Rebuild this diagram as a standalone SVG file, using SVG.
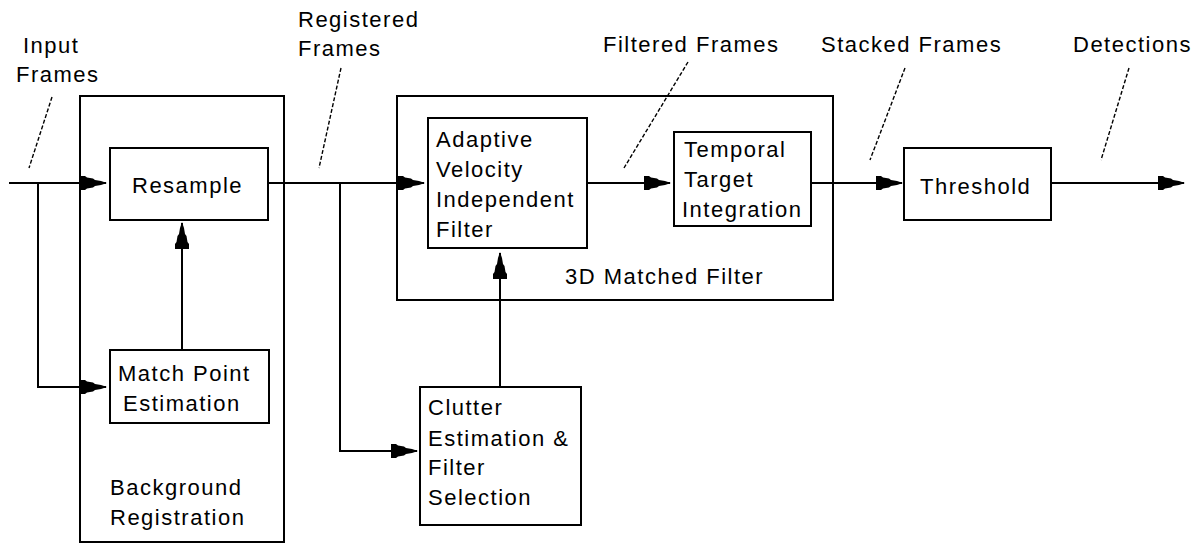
<svg xmlns="http://www.w3.org/2000/svg" width="1200" height="544" viewBox="0 0 1200 544">
<style>
.box{fill:none;stroke:#000;stroke-width:2}
.ln{fill:none;stroke:#000;stroke-width:2}
.ld{fill:none;stroke:#000;stroke-width:1.4;stroke-dasharray:4 2}
text{font-family:"Liberation Sans",Arial,Helvetica,sans-serif;font-size:22px;letter-spacing:1.5px;fill:#000}
</style>
<defs>
<marker id="ah" viewBox="-28 -8 30 16" refX="0" refY="0" markerWidth="30" markerHeight="16" markerUnits="userSpaceOnUse" orient="auto">
<path d="M1,0 L-5,-2 L-11,-3 L-13,-4.5 L-19,-5.5 L-21,-7 L-26,-7 L-26,7 L-21,7 L-19,5.5 L-13,4.5 L-11,3 L-5,2 Z" fill="#000"/>
</marker>
</defs>
<rect width="1200" height="544" fill="#fff"/>

<g id="bg-registration">
<rect class="box" x="80" y="96" width="204" height="446"/>
<text x="110" y="495">Background</text>
<text x="110" y="525">Registration</text>
</g>
<g id="resample">
<rect class="box" x="110" y="148" width="158" height="72"/>
<text x="132" y="193">Resample</text>
</g>
<g id="match-point">
<rect class="box" x="110" y="350" width="159" height="73"/>
<text x="118" y="381">Match Point</text>
<text x="123" y="411">Estimation</text>
</g>
<g id="matched-filter">
<rect class="box" x="397" y="96" width="436" height="204"/>
<text x="565" y="284">3D Matched Filter</text>
</g>
<g id="adaptive">
<rect class="box" x="428" y="118" width="159" height="130"/>
<text x="436" y="147">Adaptive</text>
<text x="436" y="177">Velocity</text>
<text x="436" y="207">Independent</text>
<text x="436" y="237">Filter</text>
</g>
<g id="temporal">
<rect class="box" x="674" y="132" width="137" height="94"/>
<text x="684" y="157">Temporal</text>
<text x="684" y="187">Target</text>
<text x="682" y="217">Integration</text>
</g>
<g id="threshold">
<rect class="box" x="904" y="148" width="147" height="72"/>
<text x="920" y="194">Threshold</text>
</g>
<g id="clutter">
<rect class="box" x="420" y="387" width="161" height="138"/>
<text x="428" y="415">Clutter</text>
<text x="428" y="446">Estimation &amp;</text>
<text x="428" y="475">Filter</text>
<text x="428" y="505">Selection</text>
</g>

<g id="labels">
<text x="23" y="53">Input</text>
<text x="16" y="82">Frames</text>
<text x="298" y="27">Registered</text>
<text x="298" y="56">Frames</text>
<text x="603" y="52">Filtered Frames</text>
<text x="821" y="52">Stacked Frames</text>
<text x="1073" y="52">Detections</text>
</g>

<g id="connectors">
<path class="ln" d="M9,183 H106" marker-end="url(#ah)"/>
<path class="ln" d="M38,183 V387 H106" marker-end="url(#ah)"/>
<path class="ln" d="M182,350 V223" marker-end="url(#ah)"/>
<path class="ln" d="M268,183 H424" marker-end="url(#ah)"/>
<path class="ln" d="M340,183 V451 H417" marker-end="url(#ah)"/>
<path class="ln" d="M500,387 V253" marker-end="url(#ah)"/>
<path class="ln" d="M587,183 H670" marker-end="url(#ah)"/>
<path class="ln" d="M811,183 H902" marker-end="url(#ah)"/>
<path class="ln" d="M1051,183 H1184" marker-end="url(#ah)"/>
<path class="ld" d="M52,97 L29,168"/>
<path class="ld" d="M341,68 L319,168"/>
<path class="ld" d="M688,62 L624,168"/>
<path class="ld" d="M905,68 L870,160"/>
<path class="ld" d="M1129,68 L1101,160"/>
</g>
</svg>
